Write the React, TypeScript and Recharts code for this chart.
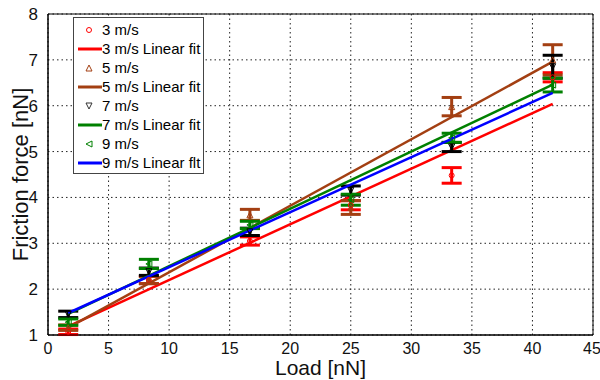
import {
  ComposedChart,
  Scatter,
  Line,
  XAxis,
  YAxis,
  CartesianGrid,
  ErrorBar,
  ReferenceArea,
  Label,
} from 'recharts'

// load points [nN]
const loads = [1.67, 8.33, 16.67, 25, 33.33, 41.67]

// measured friction force [nN] and error per speed
const f3 = [1.07, 2.2, 3.05, 3.83, 4.48, 6.62]
const e3 = [0.06, 0.08, 0.09, 0.1, 0.17, 0.1]
const f5 = [1.16, 2.2, 3.62, 3.78, 5.98, 7.0]
const e5 = [0.06, 0.08, 0.12, 0.15, 0.2, 0.33]
const f7 = [1.45, 2.38, 3.25, 4.15, 5.1, 6.85]
const e7 = [0.07, 0.08, 0.08, 0.1, 0.1, 0.25]
const f9 = [1.28, 2.55, 3.4, 3.95, 5.3, 6.45]
const e9 = [0.07, 0.1, 0.08, 0.12, 0.1, 0.15]

// linear fit end points
const fitX = [1.67, 41.67]
const fit3 = [1.19, 6.04]
const fit5 = [1.16, 6.96]
const fit7 = [1.46, 6.46]
const fit9 = [1.48, 6.28]

const xTicks = [0, 5, 10, 15, 20, 25, 30, 35, 40, 45]
const yTicks = [1, 2, 3, 4, 5, 6, 7, 8]

const RED = '#ff0000'
const BROWN = '#a33f12'
const BLACK = '#000000'
const GREEN = '#008000'
const BLUE = '#0000ff'

const pts = (f: number[], e: number[]) => loads.map((x, i) => ({ x, y: f[i], err: e[i] }))
const fit = (f: number[]) => fitX.map((x, i) => ({ x, y: f[i] }))

const mark = (kind: string, color: string) => (props: any) => {
  const { cx, cy } = props
  const s = 3
  let d = ''
  if (kind === 'circle') return <circle cx={cx} cy={cy} r={2.5} fill="none" stroke={color} strokeWidth={1} />
  if (kind === 'up') d = `M${cx},${cy - s}L${cx + s},${cy + s}L${cx - s},${cy + s}Z`
  if (kind === 'down') d = `M${cx},${cy + s}L${cx + s},${cy - s}L${cx - s},${cy - s}Z`
  if (kind === 'left') d = `M${cx - s},${cy}L${cx + s},${cy - s}L${cx + s},${cy + s}Z`
  return <path d={d} fill="none" stroke={color} strokeWidth={1} />
}

const legendItems = [
  { label: '3 m/s', kind: 'circle', color: RED },
  { label: '3 m/s Linear fit', kind: 'line', color: RED },
  { label: '5 m/s', kind: 'up', color: BROWN },
  { label: '5 m/s Linear fit', kind: 'line', color: BROWN },
  { label: '7 m/s', kind: 'down', color: '#333' },
  { label: '7 m/s Linear fit', kind: 'line', color: GREEN },
  { label: '9 m/s', kind: 'left', color: GREEN },
  { label: '9 m/s Linear flt', kind: 'line', color: BLUE },
]

function LegendBox() {
  return (
    <div
      style={{
        position: 'absolute',
        left: 73,
        top: 17,
        border: '1.5px solid #444',
        background: '#fff',
        width: 129,
        padding: '2px 0 1px 0',
        fontFamily: '"Liberation Sans", Arial, sans-serif',
        fontSize: 15,
        color: '#000',
      }}
    >
      {legendItems.map((it) => (
        <div key={it.label} style={{ display: 'flex', alignItems: 'center', height: 19, whiteSpace: 'nowrap' }}>
          <svg width={28} height={19} style={{ flex: 'none' }}>
            {it.kind === 'line' ? (
              <line x1={4} x2={28} y1={10} y2={10} stroke={it.color} strokeWidth={3} />
            ) : (
              mark(it.kind, it.color)({ cx: 15, cy: 10 })
            )}
          </svg>
          <span>{it.label}</span>
        </div>
      ))}
    </div>
  )
}

export default function App() {
  return (
    <div style={{ position: 'absolute', left: 0, top: 0, width: 600, height: 380, background: '#fff' }}>
      <ComposedChart
        width={600}
        height={380}
        margin={{ top: 14, right: 7, left: 18, bottom: 0 }}
        style={{ fontFamily: '"Liberation Sans", Arial, sans-serif' }}
      >
        <CartesianGrid stroke="#222" strokeDasharray="1.5 3" />
        <XAxis
          type="number"
          dataKey="x"
          domain={[0, 45]}
          ticks={xTicks}
          allowDataOverflow
          height={45}
          tick={{ fontSize: 16, fill: '#111' }}
          tickLine={false}
          axisLine={{ stroke: '#000' }}
          tickMargin={2}
        >
          <Label value="Load [nN]" position="insideBottom" offset={5} style={{ fontSize: 21, fill: '#111' }} />
        </XAxis>
        <YAxis
          type="number"
          dataKey="y"
          domain={[1, 8]}
          ticks={yTicks}
          allowDataOverflow
          width={30}
          tick={{ fontSize: 17, fill: '#111' }}
          tickLine={false}
          axisLine={{ stroke: '#000' }}
          tickMargin={4}
        >
          <Label
            value="Friction force [nN]"
            angle={-90}
            position="insideLeft"
            offset={2}
            style={{ fontSize: 22, fill: '#111', textAnchor: 'middle' }}
          />
        </YAxis>
        <ReferenceArea x1={0} x2={45} y1={1} y2={8} fill="none" stroke="#000" strokeOpacity={1} />

        <Scatter data={pts(f3, e3)} fill={RED} shape={mark('circle', RED)} isAnimationActive={false}>
          <ErrorBar dataKey="err" direction="y" stroke={RED} strokeWidth={3} width={10} />
        </Scatter>
        <Line data={fit(fit3)} dataKey="y" type="linear" stroke={RED} strokeWidth={2.5} dot={false} isAnimationActive={false} />
        <Scatter data={pts(f5, e5)} fill={BROWN} shape={mark('up', BROWN)} isAnimationActive={false}>
          <ErrorBar dataKey="err" direction="y" stroke={BROWN} strokeWidth={3} width={10} />
        </Scatter>
        <Line data={fit(fit5)} dataKey="y" type="linear" stroke={BROWN} strokeWidth={2.5} dot={false} isAnimationActive={false} />
        <Scatter data={pts(f7, e7)} fill={BLACK} shape={mark('down', BLACK)} isAnimationActive={false}>
          <ErrorBar dataKey="err" direction="y" stroke={BLACK} strokeWidth={3} width={10} />
        </Scatter>
        <Line data={fit(fit7)} dataKey="y" type="linear" stroke={GREEN} strokeWidth={2.5} dot={false} isAnimationActive={false} />
        <Scatter data={pts(f9, e9)} fill={GREEN} shape={mark('left', GREEN)} isAnimationActive={false}>
          <ErrorBar dataKey="err" direction="y" stroke={GREEN} strokeWidth={3} width={10} />
        </Scatter>
        <Line data={fit(fit9)} dataKey="y" type="linear" stroke={BLUE} strokeWidth={2.5} dot={false} isAnimationActive={false} />
      </ComposedChart>
      <LegendBox />
    </div>
  )
}
